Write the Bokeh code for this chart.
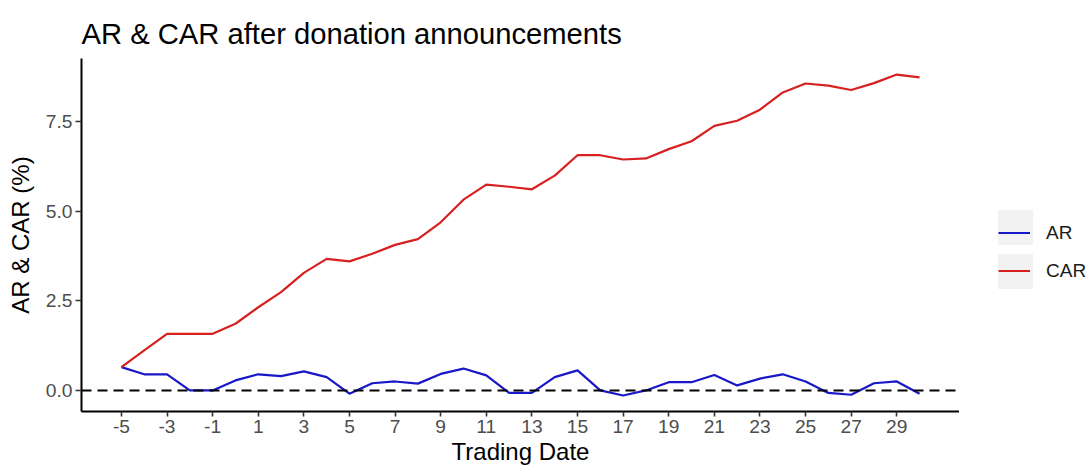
from bokeh.plotting import figure
from bokeh.layouts import row
from bokeh.models import Range1d, FixedTicker, NumeralTickFormatter, Span, Legend, LegendItem
from bokeh.embed import file_html
from bokeh.resources import INLINE

# ---- data ----
trading_date = list(range(-5, 31))
ar = [0.65, 0.45, 0.45, 0.00, 0.00, 0.28, 0.45, 0.40, 0.53, 0.37,
      -0.09, 0.20, 0.25, 0.19, 0.46, 0.61, 0.42, -0.07, -0.07, 0.37,
      0.56, 0.00, -0.14, 0.00, 0.23, 0.23, 0.43, 0.14, 0.33, 0.45,
      0.25, -0.07, -0.12, 0.20, 0.25, -0.09]
car = [0.65, 1.12, 1.58, 1.58, 1.58, 1.86, 2.32, 2.74, 3.28, 3.67,
       3.60, 3.81, 4.06, 4.22, 4.69, 5.32, 5.74, 5.68, 5.61, 5.99,
       6.56, 6.56, 6.44, 6.47, 6.73, 6.95, 7.38, 7.52, 7.83, 8.31,
       8.56, 8.50, 8.38, 8.57, 8.81, 8.73]
x_ticks = list(range(-5, 30, 2))
y_ticks = [0.0, 2.5, 5.0, 7.5]
series_names = ["AR", "CAR"]

FONT = "Liberation Sans"
AR_COLOR = "#1818c8"
CAR_COLOR = "#d82020"
KEY_BG = "#f2f2f2"

# ggplot-like 5% expansion
xmin, xmax = min(trading_date), max(trading_date)
xpad = (xmax - xmin) * 0.05
ylo = min(min(ar), min(car))
yhi = max(max(ar), max(car))
ypad = (yhi - ylo) * 0.05

p = figure(width=959, height=468, output_backend="svg", toolbar_location=None,
           x_range=Range1d(xmin - xpad, xmax + xpad),
           y_range=Range1d(ylo - ypad, yhi + ypad),
           title="AR & CAR after donation announcements",
           min_border_left=81, min_border_right=0,
           min_border_top=58, min_border_bottom=57)

p.grid.visible = False
p.outline_line_color = None
p.background_fill_color = "white"
p.border_fill_color = "white"

p.title.text_font = FONT
p.title.text_font_size = "29.2px"
p.title.text_font_style = "normal"
p.title.text_color = "black"
p.title.standoff = 18

for ax in (p.xaxis[0], p.yaxis[0]):
    ax.axis_line_color = "black"
    ax.axis_line_width = 2
    ax.major_tick_line_color = "#333333"
    ax.major_tick_line_width = 1.6
    ax.major_tick_in = 0
    ax.minor_tick_line_color = None
    ax.major_label_text_font = FONT
    ax.major_label_text_font_size = "19.2px"
    ax.major_label_text_color = "#4d4d4d"
    ax.axis_label_text_font = FONT
    ax.axis_label_text_font_size = "24px"
    ax.axis_label_text_font_style = "normal"
    ax.axis_label_text_color = "black"

p.xaxis.axis_label = "Trading Date"
p.xaxis.ticker = FixedTicker(ticks=x_ticks)
p.xaxis.major_label_overrides = {t: str(t) for t in x_ticks}
p.xaxis.major_tick_out = 5
p.xaxis.major_label_standoff = 3
p.xaxis.axis_label_standoff = 2

p.yaxis.axis_label = "AR & CAR (%)"
p.yaxis.ticker = FixedTicker(ticks=y_ticks)
p.yaxis.formatter = NumeralTickFormatter(format="0.0")
p.yaxis.major_tick_out = 6
p.yaxis.major_label_standoff = 3
p.yaxis.axis_label_standoff = 9

zero = Span(location=0, dimension="width", line_color="black",
            line_dash="10 6", line_width=2)
p.add_layout(zero)

p.line(trading_date, ar, line_color=AR_COLOR, line_width=2.2)
p.line(trading_date, car, line_color=CAR_COLOR, line_width=2.2)

# ---- legend panel (ggplot-style keys on grey squares) ----
lg = figure(width=130, height=468, output_backend="svg", toolbar_location=None,
            x_range=Range1d(xmin - xpad, xmax + xpad),
            y_range=Range1d(ylo - ypad, yhi + ypad),
            min_border=0, min_border_left=0, min_border_right=0,
            min_border_top=58, min_border_bottom=57)
lg.axis.visible = False
lg.grid.visible = False
lg.outline_line_color = None
lg.background_fill_color = "white"
lg.border_fill_color = "white"

# hidden renderers that only supply the legend glyphs
bg = lg.quad(left=[xmin], right=[xmax], bottom=[ylo], top=[yhi],
             fill_color=KEY_BG, line_color=None, visible=False)
key_ar = lg.line(trading_date, ar, line_color=AR_COLOR, line_width=2.2, visible=False)
key_car = lg.line(trading_date, car, line_color=CAR_COLOR, line_width=2.2, visible=False)

legend_bg = Legend(items=[LegendItem(label=" ", renderers=[bg]),
                          LegendItem(label=" ", renderers=[bg])],
                   location=(33.6, 118.4), glyph_width=44, glyph_height=44,
                   spacing=-6, padding=0, margin=0, label_standoff=0,
                   label_text_font_size="8px", inactive_fill_alpha=0,
                   border_line_color=None, background_fill_alpha=0)
lg.add_layout(legend_bg)

legend = Legend(items=[LegendItem(label=series_names[0], renderers=[key_ar]),
                       LegendItem(label=series_names[1], renderers=[key_car])],
                location=(39, 123), glyph_width=32, glyph_height=35,
                spacing=3, padding=0, margin=0, label_standoff=16,
                label_text_font=FONT, label_text_font_size="19px",
                label_text_color="#1a1a1a", inactive_fill_alpha=0,
                border_line_color=None, background_fill_alpha=0)
lg.add_layout(legend)

layout = row(p, lg)
open("out.html", "w").write(file_html(layout, INLINE))
